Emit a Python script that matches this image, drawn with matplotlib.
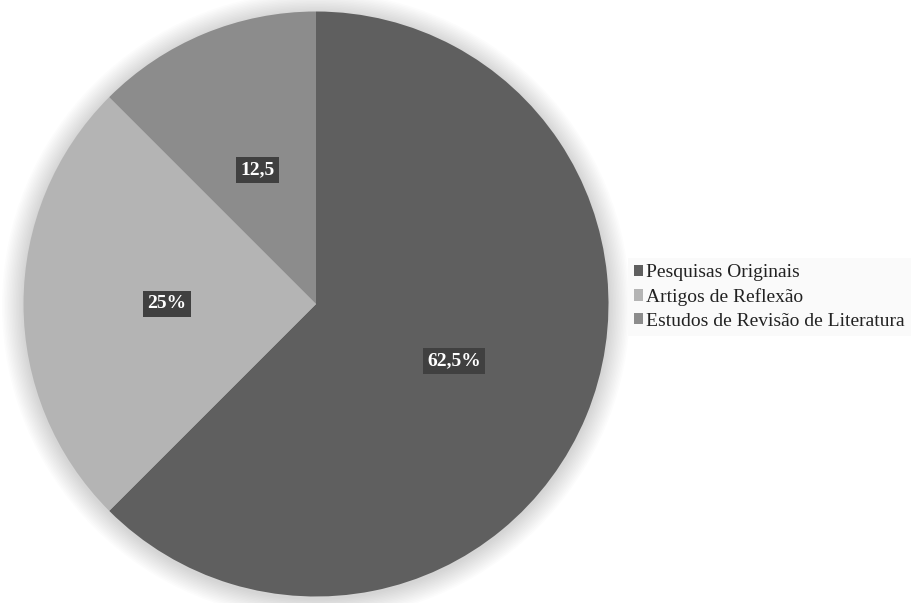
import matplotlib
matplotlib.use("Agg")
import matplotlib.pyplot as plt
import numpy as np
from matplotlib.patches import Circle

categories = ["Pesquisas Originais", "Artigos de Reflexão", "Estudos de Revisão de Literatura"]
values = [62.5, 25, 12.5]
labels = ["62,5%", "25%", "12,5"]
colors = ["#5f5f5f", "#b4b4b4", "#8c8c8c"]

W, H = 917, 603
fig = plt.figure(figsize=(W / 100, H / 100), dpi=100)
cx, cy, r = 316, 304, 292.5
ax = fig.add_axes([(cx - r) / W, (H - cy - r) / H, 2 * r / W, 2 * r / H])

# soft shadow around the pie
for i in range(14):
    rad = 1.0 + 0.0035 * (i + 1) * 1.5
    ax.add_patch(Circle((0.0, -0.006), rad, color="black", alpha=0.010, lw=0,
                        zorder=0, clip_on=False))

wedges, texts = ax.pie(values, colors=colors, startangle=90, counterclock=False,
                       radius=1.0, labels=labels, labeldistance=0.51,
                       wedgeprops=dict(linewidth=0), textprops=dict(zorder=5))
ax.set_xlim(-1, 1)
ax.set_ylim(-1, 1)
ax.set_aspect("equal")
ax.axis("off")

# third label placed further up inside its slice
ang = np.deg2rad(113.6)
texts[2].set_position((0.50 * np.cos(ang), 0.50 * np.sin(ang)))

for t in texts:
    t.set_ha("center")
    t.set_va("center")
    t.set_color("white")
    t.set_fontfamily("Liberation Serif")
    t.set_fontweight("bold")
    t.set_fontsize(14)
    t.set_bbox(dict(boxstyle="square,pad=0.22", facecolor="#404040", edgecolor="none"))

leg = fig.legend(wedges, categories, loc="center left",
                 bbox_to_anchor=(618 / W, 1 - 297 / H),
                 frameon=True, fancybox=False, facecolor="#fafafa", edgecolor="none",
                 prop=dict(family="Liberation Serif", size=14.0),
                 handlelength=0.5, handleheight=0.5, handletextpad=0.15,
                 labelspacing=0.35, borderpad=0.3, labelcolor="#222222")
leg.get_frame().set_alpha(1)

fig.savefig("out.png", dpi=100, facecolor="white")
